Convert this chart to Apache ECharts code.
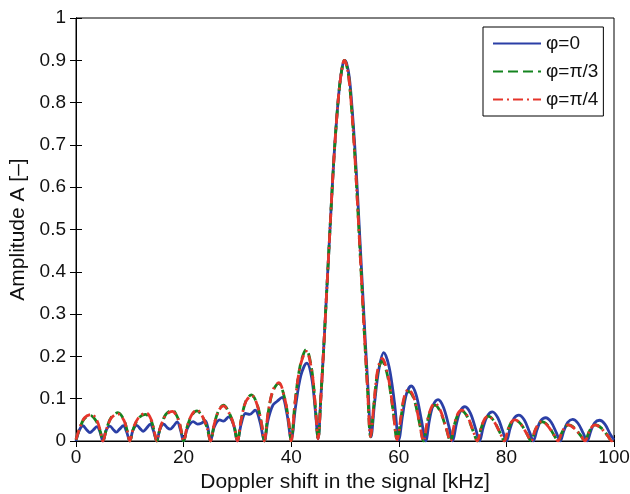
<!DOCTYPE html>
<html><head><meta charset="utf-8">
<script src="https://cdn.jsdelivr.net/npm/echarts@6/dist/echarts.min.js"></script>
<style>html,body{margin:0;padding:0;background:#fff}#c{width:630px;height:494px}</style>
</head><body><div id="c"></div>
<script>
const seriesNames = ['\u03c6=0', '\u03c6=\u03c0/3', '\u03c6=\u03c0/4'];
const xTitle = 'Doppler shift in the signal [kHz]';
const yTitle = 'Amplitude A [\u2013]';
const xTickValues = [0, 20, 40, 60, 80, 100];
const yTickValues = [0, 0.1, 0.2, 0.3, 0.4, 0.5, 0.6, 0.7, 0.8, 0.9, 1];

// [kHz, amplitude]
const phi0 = [
 [0,0.0],[0.6,0.025],[1.3,0.036],[2.0,0.026],[2.6,0.02],[3.2,0.026],[3.9,0.034],[4.5,0.02],[5,0],
 [5.6,0.025],[6.3,0.035],[7,0.026],[7.5,0.021],[8.1,0.028],[8.8,0.036],[9.4,0.022],[10,0],
 [10.6,0.026],[11.3,0.037],[12,0.028],[12.5,0.023],[13.1,0.03],[13.8,0.04],[14.4,0.024],[15,0],
 [15.6,0.028],[16.3,0.04],[17,0.031],[17.5,0.028],[18.1,0.035],[18.8,0.045],[19.4,0.027],[20,0],
 [20.7,0.03],[21.8,0.046],[22.6,0.04],[23.3,0.042],[24,0.048],[24.5,0.032],[25,0],
 [25.7,0.033],[26.7,0.05],[27.4,0.047],[28.4,0.057],[29.3,0.038],[30,0],
 [30.7,0.04],[31.5,0.065],[32.3,0.063],[33.3,0.073],[34.2,0.045],[35,0],
 [35.7,0.05],[36.6,0.085],[37.4,0.094],[38.3,0.103],[39.2,0.065],[40,0.004],
 [40.8,0.08],[41.8,0.155],[42.9,0.184],[43.8,0.15],[44.5,0.07],[45,0.005],
 [45.5,0.1],[46,0.21],[46.5,0.33],[47,0.45],[47.5,0.57],[48,0.68],[48.5,0.77],[49,0.84],[49.5,0.885],[49.9,0.9],
 [50.3,0.893],[50.8,0.86],[51.3,0.79],[51.8,0.7],[52.3,0.59],[52.8,0.47],[53.3,0.35],[53.8,0.23],[54.3,0.12],[54.85,0.01],
 [55.5,0.09],[56.3,0.17],[57.2,0.209],[58.2,0.175],[59.2,0.09],[60,0.003],
 [60.7,0.06],[61.4,0.11],[62.3,0.13],[63.2,0.11],[64.2,0.05],[65,0],
 [65.7,0.05],[66.4,0.085],[67.3,0.098],[68.3,0.08],[69.3,0.035],[70,0],
 [70.7,0.04],[71.4,0.07],[72.3,0.081],[73.3,0.066],[74.3,0.028],[75,0],
 [75.7,0.033],[76.5,0.06],[77.4,0.069],[78.4,0.055],[79.3,0.024],[80,0],
 [80.7,0.03],[81.4,0.053],[82.3,0.061],[83.3,0.05],[84.3,0.021],[85,0],
 [85.7,0.027],[86.4,0.048],[87.3,0.055],[88.3,0.045],[89.3,0.019],[90,0],
 [90.7,0.025],[91.4,0.044],[92.3,0.051],[93.3,0.042],[94.3,0.018],[95,0],
 [95.7,0.024],[96.4,0.043],[97.3,0.049],[98.3,0.04],[99.3,0.016],[100,0.003]
];
const phiPi3 = [
 [0,0.003],[0.7,0.03],[1.5,0.052],[2.7,0.06],[3.8,0.046],[4.5,0.024],[5,0],
 [5.7,0.03],[6.6,0.057],[7.8,0.067],[8.9,0.05],[9.5,0.025],[10,0],
 [10.7,0.03],[11.7,0.055],[12.9,0.063],[14,0.047],[14.5,0.025],[15,0],
 [15.7,0.033],[16.7,0.063],[17.9,0.073],[19,0.052],[19.5,0.028],[20,0],
 [20.7,0.035],[21.6,0.062],[22.5,0.071],[23.6,0.055],[24.4,0.03],[25,0],
 [25.7,0.04],[26.5,0.072],[27.4,0.085],[28.5,0.066],[29.4,0.035],[30,0],
 [30.7,0.05],[31.6,0.095],[32.6,0.109],[33.7,0.085],[34.5,0.04],[35,0],
 [35.7,0.065],[36.6,0.118],[37.7,0.136],[38.8,0.1],[39.5,0.05],[40,0],
 [40.7,0.09],[41.7,0.18],[42.8,0.216],[43.8,0.17],[44.5,0.08],[45,0.005],
 [45.5,0.1],[46,0.21],[46.5,0.33],[47,0.45],[47.5,0.57],[48,0.68],[48.5,0.77],[49,0.84],[49.5,0.885],[49.85,0.9],
 [50.2,0.893],[50.7,0.86],[51.2,0.79],[51.7,0.7],[52.2,0.59],[52.7,0.47],[53.2,0.35],[53.7,0.23],[54.2,0.12],[54.75,0.01],
 [55.4,0.09],[56.1,0.165],[56.9,0.188],[57.9,0.155],[58.9,0.075],[59.7,0.003],
 [60.4,0.055],[61,0.1],[61.8,0.117],[62.8,0.1],[63.8,0.045],[64.6,0],
 [65.3,0.045],[66,0.075],[66.7,0.085],[67.7,0.07],[68.8,0.03],[69.6,0],
 [70.3,0.037],[71,0.063],[71.7,0.071],[72.7,0.058],[73.8,0.024],[74.6,0],
 [75.3,0.03],[76,0.052],[76.7,0.058],[77.7,0.047],[78.8,0.02],[79.6,0],
 [80.3,0.027],[81,0.045],[81.7,0.049],[82.7,0.04],[83.8,0.017],[84.6,0],
 [85.3,0.024],[86,0.041],[86.7,0.045],[87.7,0.037],[88.8,0.015],[89.6,0],
 [90.3,0.02],[91,0.034],[91.6,0.038],[92.6,0.031],[93.8,0.013],[94.6,0],
 [95.3,0.02],[96,0.034],[96.6,0.038],[97.6,0.031],[98.8,0.013],[99.6,0],[100,0.008]
];
const phiPi4 = [
 [0,0.003],[0.7,0.031],[1.6,0.055],[2.9,0.063],[3.9,0.048],[4.5,0.025],[5,0],
 [5.7,0.03],[6.6,0.055],[7.8,0.064],[8.9,0.049],[9.5,0.025],[10,0],
 [10.7,0.032],[11.8,0.058],[13.1,0.066],[14,0.05],[14.5,0.026],[15,0],
 [15.7,0.033],[16.7,0.061],[17.9,0.07],[19,0.051],[19.5,0.027],[20,0],
 [20.7,0.036],[21.6,0.064],[22.5,0.073],[23.6,0.056],[24.4,0.03],[25,0],
 [25.7,0.04],[26.5,0.071],[27.4,0.083],[28.5,0.065],[29.4,0.034],[30,0],
 [30.7,0.05],[31.6,0.094],[32.7,0.107],[33.7,0.084],[34.5,0.04],[35,0],
 [35.7,0.066],[36.6,0.12],[37.7,0.138],[38.8,0.1],[39.5,0.05],[40,0],
 [40.7,0.09],[41.7,0.178],[42.8,0.212],[43.8,0.168],[44.5,0.08],[45,0.005],
 [45.5,0.1],[46,0.21],[46.5,0.33],[47,0.45],[47.5,0.57],[48,0.68],[48.5,0.77],[49,0.84],[49.5,0.885],[49.85,0.9],
 [50.2,0.893],[50.7,0.86],[51.2,0.79],[51.7,0.7],[52.2,0.59],[52.7,0.47],[53.2,0.35],[53.7,0.23],[54.2,0.12],[54.75,0.01],
 [55.4,0.092],[56.1,0.17],[56.9,0.195],[57.9,0.16],[58.9,0.078],[59.7,0.003],
 [60.4,0.057],[61,0.104],[61.8,0.122],[62.8,0.103],[63.8,0.046],[64.6,0],
 [65.3,0.047],[66,0.078],[66.7,0.089],[67.7,0.073],[68.8,0.031],[69.6,0],
 [70.3,0.038],[71,0.065],[71.7,0.073],[72.7,0.06],[73.8,0.025],[74.6,0],
 [75.3,0.031],[76,0.053],[76.6,0.059],[77.6,0.048],[78.8,0.02],[79.6,0],
 [80.3,0.027],[81,0.046],[81.6,0.05],[82.6,0.041],[83.8,0.017],[84.6,0],
 [85.3,0.024],[86,0.042],[86.6,0.046],[87.6,0.037],[88.8,0.015],[89.6,0],
 [90.3,0.02],[91,0.035],[91.5,0.038],[92.5,0.031],[93.8,0.013],[94.6,0],
 [95.3,0.02],[96,0.035],[96.5,0.038],[97.5,0.031],[98.8,0.013],[99.6,0],[100,0.008]
];

const colors = ['#2b3fa6', '#14841f', '#e5352b'];
const dashes = ['solid', [10, 5], [10, 4, 2, 4]];
const FONT = 'Liberation Sans, Arial, Helvetica, sans-serif';
const chart = echarts.init(document.getElementById('c'), null, {renderer: 'canvas'});

const common = {min: 0, max: 100, interval: 20};
const axisLine = {show: true, lineStyle: {color: '#000', width: 1}};
const tickIn = {show: true, inside: true, length: 6, lineStyle: {color: '#000', width: 1}};

chart.setOption({
  animation: false,
  backgroundColor: '#fff',
  grid: {left: 76, right: 16, top: 18, bottom: 53, show: true, borderColor: '#000', borderWidth: 1,
    containLabel: false, outerBoundsMode: 'none'},
  legend: {
    left: 483, top: 27, orient: 'vertical',
    data: seriesNames,
    backgroundColor: '#fff', borderColor: '#000', borderWidth: 1,
    padding: [7, 5, 7, 9], itemGap: 9, itemWidth: 48, itemHeight: 17,
    itemStyle: {opacity: 0},
    textStyle: {fontFamily: FONT, fontSize: 19, color: '#111', lineHeight: 17}
  },
  xAxis: [
    Object.assign({type: 'value', position: 'bottom', name: xTitle, nameLocation: 'middle', nameGap: 31,
      nameTextStyle: {fontFamily: FONT, fontSize: 21, color: '#111'},
      axisLine: axisLine, axisTick: tickIn, splitLine: {show: false},
      axisLabel: {fontFamily: FONT, fontSize: 19, color: '#111', margin: 7}}, common),
    Object.assign({type: 'value', position: 'top', axisLine: axisLine, axisTick: tickIn,
      splitLine: {show: false}, axisLabel: {show: false}}, common)
  ],
  yAxis: [
    {type: 'value', position: 'left', min: 0, max: 1, interval: 0.1, name: yTitle, nameLocation: 'middle', nameGap: 40,
      nameTextStyle: {fontFamily: FONT, fontSize: 21, color: '#111'},
      axisLine: axisLine, axisTick: tickIn, splitLine: {show: false},
      axisLabel: {fontFamily: FONT, fontSize: 19, color: '#111', margin: 10}},
    {type: 'value', position: 'right', min: 0, max: 1, interval: 0.1, axisLine: axisLine, axisTick: tickIn,
      splitLine: {show: false}, axisLabel: {show: false}}
  ],
  series: [phi0, phiPi3, phiPi4].map((d, i) => ({
    name: seriesNames[i], type: 'line', data: d, xAxisIndex: 0, yAxisIndex: 0,
    symbol: 'none', smooth: 0.35, z: 2 + i,
    lineStyle: {color: colors[i], width: 2.8, type: dashes[i], cap: 'butt'},
    itemStyle: {color: colors[i]}
  }))
});
</script></body></html>
